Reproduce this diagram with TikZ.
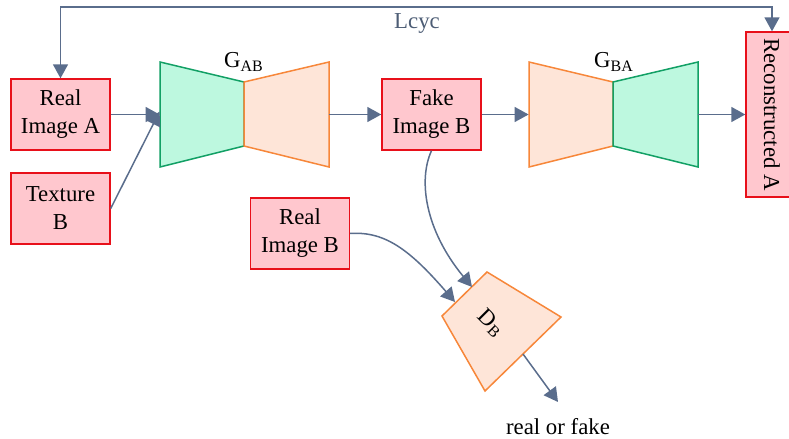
\documentclass[tikz,border=0pt]{standalone}
\usepackage{fontspec}
\setmainfont{Liberation Serif}
\usetikzlibrary{arrows.meta}
\definecolor{boxfill}{HTML}{FFC7CE}
\definecolor{boxdraw}{HTML}{E8101A}
\definecolor{grfill}{HTML}{BDF8DF}
\definecolor{grdraw}{HTML}{12A065}
\definecolor{orfill}{HTML}{FEE5D8}
\definecolor{ordraw}{HTML}{F7873A}
\definecolor{arr}{HTML}{5A6D8C}
\definecolor{lcyc}{HTML}{4D5D75}
\tikzset{
  imgbox/.style={draw=boxdraw, fill=boxfill, line width=0.7pt, minimum width=49.5pt, minimum height=35.5pt, inner sep=0pt, align=center, font=\fontsize{11.4}{14}\selectfont},
  tip/.tip={Triangle[length=7pt,width=7.5pt]},
  conn/.style={draw=arr, line width=0.75pt, -tip},
  both/.style={draw=arr, line width=0.75pt, tip-tip},
  gr/.style={draw=grdraw, fill=grfill, line width=0.75pt, line join=miter},
  orr/.style={draw=ordraw, fill=orfill, line width=0.75pt, line join=miter},
  lbl/.style={font=\fontsize{11.4}{14}\selectfont, inner sep=0pt},
  ghost/.style={inner sep=0pt, minimum width=84.5pt, minimum height=52.5pt}
}
\begin{document}
\begin{tikzpicture}[x=0.5pt,y=-0.5pt]
\useasboundingbox (0,0) rectangle (789,439);
\clip (0,0) rectangle (789,439);
% boxes
\node[imgbox] (ra) at (60.5,114.5) {Real\\Image A};
\node[imgbox] (tb) at (60.5,208.5) {Texture\\B};
\node[imgbox] (fb) at (431.5,114.5) {Fake\\Image B};
\node[imgbox] (rb) at (300,233.5) {Real\\Image B};
\node[imgbox, minimum width=26pt, minimum height=82.5pt] (rec) at (772,114.5) {};
\node[lbl, rotate=-90] (rect) at (rec.center) {Reconstructed A};
% generator AB
\path[gr] (160,62) -- (244,82) -- (244,146) -- (160,167) -- cycle;
\path[orr] (244,82) -- (329,62) -- (329,167) -- (244,146) -- cycle;
\node[ghost] (gab) at (244.5,114.5) {};
\node[lbl] (gabl) at (244,62) {G\textsubscript{AB}};
% generator BA
\path[orr] (529,62) -- (613,82) -- (613,146) -- (529,167) -- cycle;
\path[gr] (613,82) -- (698,62) -- (698,167) -- (613,146) -- cycle;
\node[ghost] (gba) at (613.5,114.5) {};
\node[lbl] (gbal) at (614,62) {G\textsubscript{BA}};
% discriminator
\path[orr] (487,272) -- (561,317) -- (485,391) -- (442,316) -- cycle;
\node[lbl, rotate=-45] (db) at (491,323) {D\textsubscript{B}};
\coordinate (dbin1) at (472,287);
\coordinate (dbin2) at (455,302);
\coordinate (dbout) at (523,354);
\coordinate (rfend) at (558,402);
\node[lbl] (rf) at (558,427) {real or fake};
% connectors
\draw[conn] (ra.east) -- (gab.west);
\draw[conn] (tb.east) -- ([yshift=1.5pt]gab.west);
\draw[conn] (gab.east) -- (fb.west);
\draw[conn] (fb.east) -- (gba.west);
\draw[conn] (gba.east) -- (rec.west);
\draw[conn] (fb.south) .. controls (418,180) and (425,230) .. (dbin1);
\draw[conn] (rb.east) .. controls (385,231) and (410,250) .. (dbin2);
\draw[conn] (dbout) -- (rfend);
% cycle loss
\coordinate (top1) at (772,7);
\coordinate (top2) at (60.5,7);
\draw[both] (rec.north) -- (top1) -- (top2) -- (ra.north);
\node[lbl, text=lcyc] (lc) at (417,23) {Lcyc};
\end{tikzpicture}
\end{document}
